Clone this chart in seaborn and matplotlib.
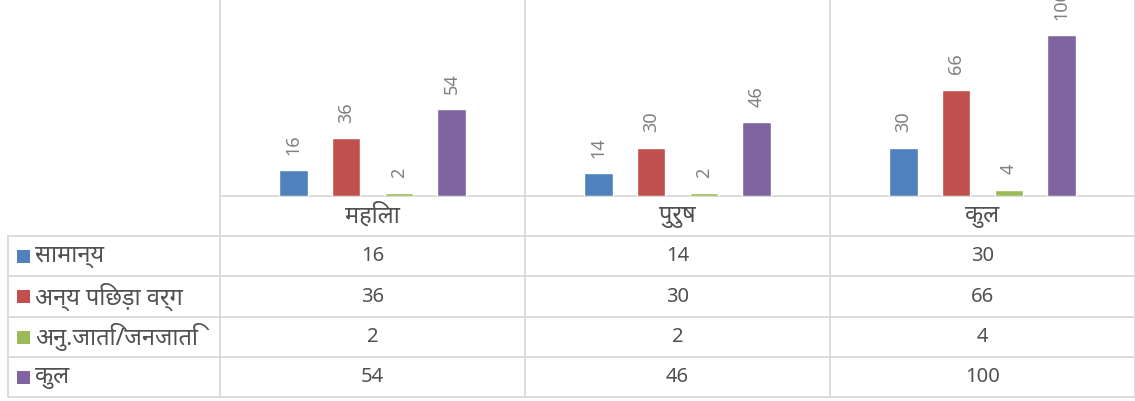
import matplotlib
matplotlib.use("Agg")
import matplotlib.pyplot as plt
import seaborn as sns
import pandas as pd
from matplotlib import font_manager
from matplotlib.ft2font import FT2Font

# ---------------- data ----------------
categories = ["महिला", "पुरुष", "कुल"]
series_names = ["सामान्य", "अन्य पिछड़ा वर्ग", "अनु.जाति/जनजाति", "कुल"]
samanya = [16, 14, 30]
obc = [36, 30, 66]
sc_st = [2, 2, 4]
kul = [54, 46, 100]
series_values = [samanya, obc, sc_st, kul]
colors = ["#4F81BD", "#C0504D", "#9BBB59", "#8064A2"]

# ---------------- font with Devanagari ----------------
deva = None
cands = sorted(font_manager.fontManager.ttflist,
               key=lambda f: (0 if "Noto Sans" in f.name else 1, f.name))
for f in cands:
    try:
        ft = FT2Font(f.fname)
        if ft.get_char_index(0x0915) and ft.get_char_index(0x0031):
            deva = f.name
            break
    except Exception:
        pass
sns.set_theme(style="white")
fams = [deva, "DejaVu Sans"] if deva else ["DejaVu Sans"]
plt.rcParams["font.family"] = fams

rows = []
for name, vals in zip(series_names, series_values):
    for c, v in zip(categories, vals):
        rows.append({"cat": c, "series": name, "val": v})
df = pd.DataFrame(rows)

W, H = 1135, 401
fig = plt.figure(figsize=(W / 100, H / 100), dpi=100)
fig.patch.set_facecolor("white")

base_y = 196
ax = fig.add_axes([220 / W, (H - base_y) / H, 915 / W, base_y / H])
sns.barplot(data=df, x="cat", y="val", hue="series", order=categories,
            hue_order=series_names, palette=colors, width=0.69, gap=0.46,
            saturation=1, ax=ax, legend=False, errorbar=None)
ax.set_xlim(-0.5, 2.5)
ax.set_ylim(0, 121.7)
ax.axis("off")
for cont in ax.containers:
    ax.bar_label(cont, rotation=90, padding=11, color="#808080", fontsize=13)

# ---------------- table overlay ----------------
tab = fig.add_axes([0, 0, 1, 1], zorder=-1)
tab.set_xlim(0, W)
tab.set_ylim(H, 0)
tab.axis("off")
gc = "#d9d9d9"
txtc = "#505050"
col_x = [220, 525, 830, 1135]
row_y = [236, 276, 317, 357, 397]
for x in col_x:
    tab.plot([x, x], [0, row_y[-1]], color=gc, lw=1.3)
tab.plot([8, 8], [row_y[0], row_y[-1]], color=gc, lw=1.3)
tab.plot([220, 1135], [base_y, base_y], color=gc, lw=1.3)
for y in row_y:
    tab.plot([8, 1135], [y, y], color=gc, lw=1.3)

centers = [(col_x[i] + col_x[i + 1]) / 2 for i in range(3)]
for cx, c in zip(centers, categories):
    tab.text(cx, (base_y + row_y[0]) / 2, c, ha="center", va="center",
             fontsize=17, color=txtc)
for r, (name, vals, col) in enumerate(zip(series_names, series_values, colors)):
    cy = (row_y[r] + row_y[r + 1]) / 2
    tab.add_patch(plt.Rectangle((17, cy - 6.5), 13, 13, color=col, lw=0))
    tab.text(35, cy, name, ha="left", va="center", fontsize=17, color=txtc)
    for cx, v in zip(centers, vals):
        tab.text(cx, cy, str(v), ha="center", va="center", fontsize=14.5,
                 color=txtc)

fig.savefig("out.png", dpi=100, facecolor="white")
